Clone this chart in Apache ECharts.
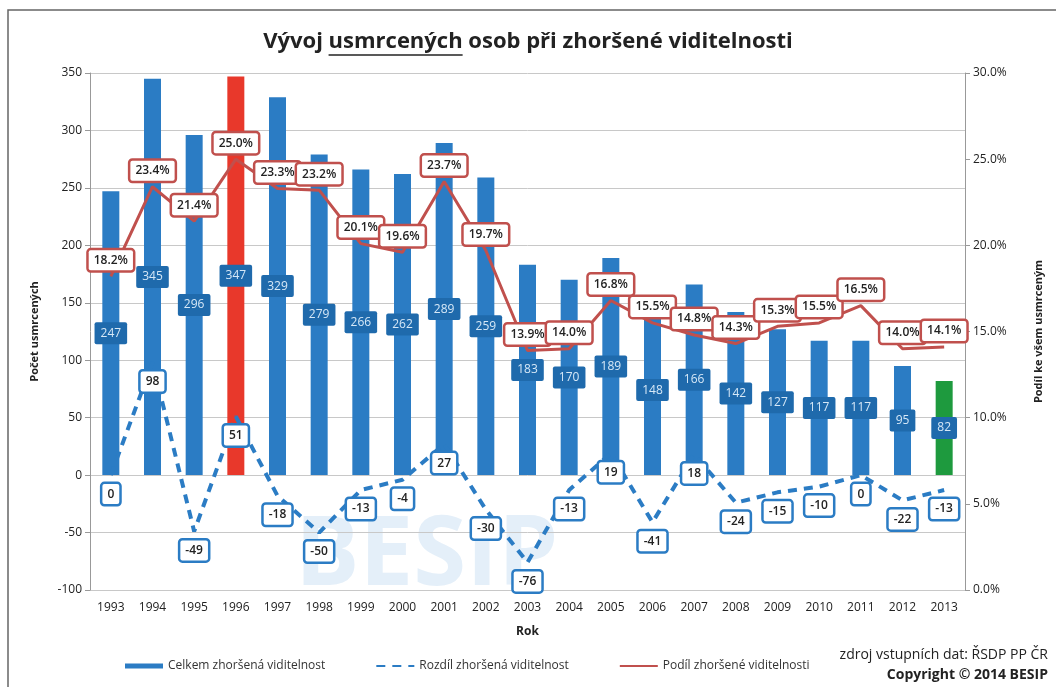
<!DOCTYPE html>
<html>
<head>
<meta charset="utf-8">
<script src="https://cdn.jsdelivr.net/npm/echarts@6/dist/echarts.min.js"></script>
<style>
  html, body { margin: 0; padding: 0; background: #fff; }
  #chart { width: 1056px; height: 687px; }
</style>
</head>
<body>
<div id="chart"></div>
<script>
const years = ["1993", "1994", "1995", "1996", "1997", "1998", "1999", "2000", "2001", "2002", "2003",
    "2004", "2005", "2006", "2007", "2008", "2009", "2010", "2011", "2012", "2013"];
const celkem = [247, 345, 296, 347, 329, 279, 266, 262, 289, 259, 183, 170, 189, 148, 166, 142, 127, 117, 117, 95, 82];
const rozdil = [0, 98, -49, 51, -18, -50, -13, -4, 27, -30, -76, -13, 19, -41, 18, -24, -15, -10, 0, -22, -13];
const podil = [18.2, 23.4, 21.4, 25.0, 23.3, 23.2, 20.1, 19.6, 23.7, 19.7, 13.9, 14.0, 16.8, 15.5, 14.8, 14.3, 15.3, 15.5, 16.5, 14.0, 14.1];

const BLUE = "#2b7cc4";
const RED_LINE = "#c0504d";
const font = "'Open Sans', 'Noto Sans', sans-serif";

const titleText = "Vývoj usmrcených osob při zhoršené viditelnosti";
const titleFont = "bold 22px 'Open Sans'";

// measure the title so the underlined word gets its line
const ctx = document.createElement("canvas").getContext("2d");
ctx.font = titleFont;
const titleW = ctx.measureText(titleText).width;
const preW = ctx.measureText("Vývoj ").width;
const wordW = ctx.measureText("usmrcených").width;
const ulX = 528 - titleW / 2 + preW;

const chart = echarts.init(document.getElementById("chart"));

// highlighted bars: 1996 red, 2013 green
function barColor(p) {
    if (years[p.dataIndex] === "1996") return "#e8382b";
    if (years[p.dataIndex] === "2013") return "#1e9a3e";
    return BLUE;
}

chart.setOption({
    animation: false,
    backgroundColor: "#fff",
    title: {
        text: titleText,
        left: "center",
        top: 26,
        textStyle: { fontFamily: "'Open Sans'", fontSize: 22, fontWeight: "bold", color: "#222" },
    },
    graphic: [
        { type: "rect", shape: { x: 8, y: 10, width: 1060, height: 700 }, style: { fill: "none", stroke: "#666", lineWidth: 1.5 }, z: -1 },
        { type: "line", shape: { x1: ulX, y1: 55, x2: ulX + wordW, y2: 55 }, style: { stroke: "#222", lineWidth: 1.5 } },
        { type: "text", left: 295, top: 510, style: { text: "BESIP", fontSize: 96, fontWeight: "bold", fontFamily: font, fill: "#e4eff9" }, z: -1 },
        { type: "text", right: 8, top: 648, style: { text: "zdroj vstupních dat: ŘSDP PP ČR", fontSize: 14, fontFamily: font, fill: "#222" } },
        { type: "text", right: 8, top: 668, style: { text: "Copyright © 2014 BESIP", fontSize: 14, fontWeight: "bold", fontFamily: font, fill: "#222" } },
    ],
    grid: { left: 90, right: 91, top: 73, bottom: 97 },
    legend: {
        bottom: 10,
        left: 120,
        itemGap: 50,
        itemWidth: 38,
        itemHeight: 5,
        textStyle: { fontFamily: font, fontSize: 12, color: "#333" },
        data: [
            { name: "Celkem zhoršená viditelnost", icon: "rect", itemStyle: { color: BLUE } },
            { name: "Rozdíl zhoršená viditelnost", itemStyle: { opacity: 0 } },
            { name: "Podíl zhoršené viditelnosti", itemStyle: { opacity: 0 } },
        ],
    },
    xAxis: {
        type: "category",
        data: years,
        name: "Rok",
        nameLocation: "middle",
        nameGap: 36,
        nameTextStyle: { fontFamily: font, fontSize: 12, fontWeight: "bold", color: "#222" },
        axisLine: { show: false },
        axisTick: { show: false },
        axisLabel: { fontFamily: font, fontSize: 12, color: "#222", margin: 12 },
    },
    yAxis: [
        {
            type: "value",
            min: -100,
            max: 350,
            interval: 50,
            name: "Počet usmrcených",
            nameLocation: "middle",
            nameGap: 50,
            nameTextStyle: { fontFamily: font, fontSize: 11, fontWeight: "bold", color: "#222" },
            axisLine: { show: true, lineStyle: { color: "#999" } },
            axisTick: { show: true, lineStyle: { color: "#999" } },
            axisLabel: { fontFamily: font, fontSize: 12, color: "#222" },
            splitLine: { lineStyle: { color: "#c8c8c8" } },
        },
        {
            type: "value",
            min: 0,
            max: 30,
            interval: 5,
            name: "Podíl ke všem usmrceným",
            nameLocation: "middle",
            nameGap: 68,
            nameTextStyle: { fontFamily: font, fontSize: 11, fontWeight: "bold", color: "#222" },
            axisLine: { show: true, lineStyle: { color: "#999" } },
            axisTick: { show: true, lineStyle: { color: "#999" } },
            axisLabel: { fontFamily: font, fontSize: 12, color: "#222", formatter: (v) => v.toFixed(1) + "%" },
            splitLine: { show: false },
        },
    ],
    series: [
        {
            name: "Celkem zhoršená viditelnost",
            type: "bar",
            data: celkem,
            barWidth: 17,
            itemStyle: { color: barColor },
            label: {
                show: true,
                position: "inside",
                fontFamily: font,
                fontSize: 12,
                color: "#d6e8f7",
                backgroundColor: "#1f6aac",
                padding: [5, 6],
                borderRadius: 2,
            },
            z: 2,
        },
        {
            name: "Rozdíl zhoršená viditelnost",
            type: "line",
            data: rozdil,
            symbol: "circle",
            symbolSize: 0,
            showSymbol: true,
            lineStyle: { color: BLUE, width: 4, type: [9, 7] },
            itemStyle: { color: BLUE },
            label: {
                show: true,
                position: "bottom",
                distance: 9,
                fontFamily: font,
                fontSize: 12,
                fontWeight: 600,
                color: "#222",
                backgroundColor: "#fff",
                borderColor: BLUE,
                borderWidth: 2.5,
                borderRadius: 2,
                padding: [4, 5],
            },
            z: 3,
        },
        {
            name: "Podíl zhoršené viditelnosti",
            type: "line",
            yAxisIndex: 1,
            data: podil,
            symbol: "circle",
            symbolSize: 0,
            showSymbol: true,
            lineStyle: { color: RED_LINE, width: 3 },
            itemStyle: { color: RED_LINE },
            label: {
                show: true,
                position: "top",
                distance: 6,
                fontFamily: font,
                fontSize: 12,
                fontWeight: 600,
                color: "#222",
                formatter: (p) => p.value.toFixed(1) + "%",
                backgroundColor: "#fff",
                borderColor: RED_LINE,
                borderWidth: 2.5,
                borderRadius: 2,
                padding: [4, 5],
            },
            z: 4,
        },
    ],
});
</script>
</body>
</html>
